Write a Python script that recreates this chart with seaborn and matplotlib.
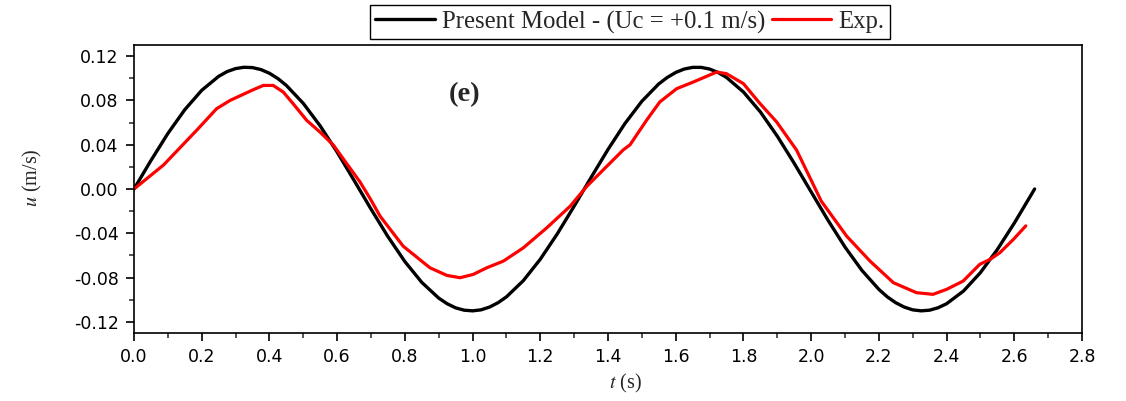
import matplotlib
matplotlib.use("Agg")
import matplotlib.pyplot as plt
import numpy as np
import pandas as pd
import seaborn as sns
from matplotlib.ticker import MultipleLocator
from matplotlib.font_manager import FontProperties

# ---------------- data ----------------
t_model = [0.00, 0.05, 0.10, 0.15, 0.20, 0.25, 0.275, 0.30, 0.325, 0.35, 0.375, 0.40,
           0.425, 0.45, 0.50, 0.55, 0.60, 0.65, 0.70, 0.75, 0.80, 0.85, 0.90, 0.925,
           0.95, 0.975, 1.00, 1.025, 1.05, 1.075, 1.10, 1.15, 1.20, 1.25, 1.30, 1.35,
           1.40, 1.45, 1.50, 1.55, 1.575, 1.60, 1.625, 1.65, 1.675, 1.70, 1.725, 1.75,
           1.80, 1.85, 1.90, 1.95, 2.00, 2.05, 2.10, 2.15, 2.20, 2.225, 2.25, 2.275,
           2.30, 2.325, 2.35, 2.375, 2.40, 2.45, 2.50, 2.55, 2.60, 2.65, 2.66]
u_model = [0.0000, 0.0257, 0.0501, 0.0716, 0.0891, 0.1017, 0.1060, 0.1087, 0.1099,
           0.1096, 0.1078, 0.1045, 0.0997, 0.0935, 0.0773, 0.0569, 0.0333, 0.0078,
           -0.0181, -0.0430, -0.0655, -0.0843, -0.0985, -0.1036, -0.1073, -0.1094,
           -0.1100, -0.1091, -0.1066, -0.1027, -0.0974, -0.0827, -0.0634, -0.0406,
           -0.0155, 0.0104, 0.0357, 0.0591, 0.0792, 0.0949, 0.1007, 0.1052, 0.1083,
           0.1098, 0.1098, 0.1083, 0.1052, 0.1007, 0.0876, 0.0696, 0.0477, 0.0232,
           -0.0026, -0.0283, -0.0524, -0.0735, -0.0906, -0.0974, -0.1027, -0.1066,
           -0.1091, -0.1100, -0.1094, -0.1072, -0.1036, -0.0921, -0.0755, -0.0546,
           -0.0308, -0.0052, 0.0000]

t_exp = [0.000, 0.087, 0.185, 0.244, 0.284, 0.352, 0.382, 0.411, 0.441, 0.470, 0.510,
         0.549, 0.589, 0.628, 0.667, 0.697, 0.727, 0.795, 0.874, 0.924, 0.963, 1.002,
         1.042, 1.091, 1.150, 1.219, 1.288, 1.337, 1.386, 1.445, 1.465, 1.514, 1.553,
         1.603, 1.652, 1.721, 1.750, 1.800, 1.849, 1.898, 1.957, 2.030, 2.105, 2.174,
         2.243, 2.311, 2.360, 2.400, 2.449, 2.498, 2.528, 2.557, 2.597, 2.634]
u_exp = [0.0000, 0.0216, 0.0530, 0.0725, 0.0800, 0.0896, 0.0935, 0.0935, 0.0875, 0.0770,
         0.0620, 0.0515, 0.0396, 0.0230, 0.0066, -0.0084, -0.0246, -0.0516, -0.0711,
         -0.0780, -0.0801, -0.0771, -0.0711, -0.0651, -0.0531, -0.0351, -0.0156, 0.0023,
         0.0173, 0.0353, 0.0399, 0.0621, 0.0786, 0.0906, 0.0966, 0.1056, 0.1041, 0.0951,
         0.0771, 0.0606, 0.0351, -0.0110, -0.0426, -0.0651, -0.0846, -0.0936, -0.0951,
         -0.0906, -0.0831, -0.0680, -0.0636, -0.0576, -0.0456, -0.0333]

series_labels = ["Present Model - (Uc = +0.1 m/s)", "Exp."]
x_ticks = [0.0, 0.2, 0.4, 0.6, 0.8, 1.0, 1.2, 1.4, 1.6, 1.8, 2.0, 2.2, 2.4, 2.6, 2.8]
x_tick_labels = ["0.0", "0.2", "0.4", "0.6", "0.8", "1.0", "1.2", "1.4", "1.6", "1.8",
                 "2.0", "2.2", "2.4", "2.6", "2.8"]
y_ticks = [-0.12, -0.08, -0.04, 0.00, 0.04, 0.08, 0.12]
y_tick_labels = ["-0.12", "-0.08", "-0.04", "0.00", "0.04", "0.08", "0.12"]
panel_label = "(e)"

# ---------------- styling ----------------
sns.set_style("ticks")
plt.rcParams["font.family"] = ["DejaVu Sans"]
plt.rcParams["axes.unicode_minus"] = False
plt.rcParams["mathtext.fontset"] = "stix"

W, H = 1126, 401
fig = plt.figure(figsize=(W / 100, H / 100), dpi=100)
fig.patch.set_facecolor("white")
left, right, top, bottom = 134.0, 1082.0, 45.0, 333.0
ax = fig.add_axes([left / W, 1 - bottom / H, (right - left) / W, (bottom - top) / H])
ax.set_facecolor("white")

df_model = pd.DataFrame({"t": t_model, "u": u_model})
df_exp = pd.DataFrame({"t": t_exp, "u": u_exp})
sns.lineplot(data=df_model, x="t", y="u", color="black", linewidth=2.4, ax=ax,
             sort=False, estimator=None, label=series_labels[0])
sns.lineplot(data=df_exp, x="t", y="u", color="#ff0000", linewidth=2.3, ax=ax,
             sort=False, estimator=None, label=series_labels[1])
for ln in ax.lines:
    ln.set_solid_joinstyle("round")
    ln.set_solid_capstyle("round")

ax.set_xlim(0, 2.8)
ax.set_ylim(-0.13, 0.13)
ax.set_xticks(x_ticks)
ax.set_xticklabels(x_tick_labels)
ax.set_yticks(y_ticks)
ax.set_yticklabels(y_tick_labels)
ax.xaxis.set_minor_locator(MultipleLocator(0.1))
ax.yaxis.set_minor_locator(MultipleLocator(0.02))
ax.tick_params(which="major", direction="out", length=6, width=1.2, labelsize=12.5,
               pad=5, colors="black", top=False, right=False)
ax.tick_params(which="minor", direction="out", length=3.5, width=1.1,
               top=False, right=False)
for s in ax.spines.values():
    s.set_visible(True)
    s.set_color("black")
    s.set_linewidth(1.2)

ax.set_xlabel(r"$t$ (s)", fontfamily="Liberation Serif", fontsize=14.5)
ax.xaxis.set_label_coords((625 - left) / (right - left), -0.135)
ax.set_ylabel(r"$u$ (m/s)", fontfamily="Liberation Serif", fontsize=14.5)
ax.yaxis.set_label_coords(-0.095, (bottom - 178) / (bottom - top))

ax.text((465 - left) / (right - left), (bottom - 95) / (bottom - top), panel_label,
        transform=ax.transAxes, ha="center", va="center",
        fontfamily="Liberation Serif", fontweight="bold", fontsize=20.5)

handles, labels = ax.get_legend_handles_labels()
leg = ax.legend(handles, labels, loc="center", bbox_to_anchor=(630 / W, 1 - 22 / H),
                bbox_transform=fig.transFigure, ncol=2, frameon=True, fancybox=False,
                edgecolor="black", prop=FontProperties(family="Liberation Serif", size=17.8),
                handlelength=2.4, handletextpad=0.3, columnspacing=0.25, borderpad=0.22,
                borderaxespad=0)
leg.get_frame().set_linewidth(1.0)
leg.get_frame().set_alpha(1)

fig.savefig("out.png", dpi=100, facecolor="white")
